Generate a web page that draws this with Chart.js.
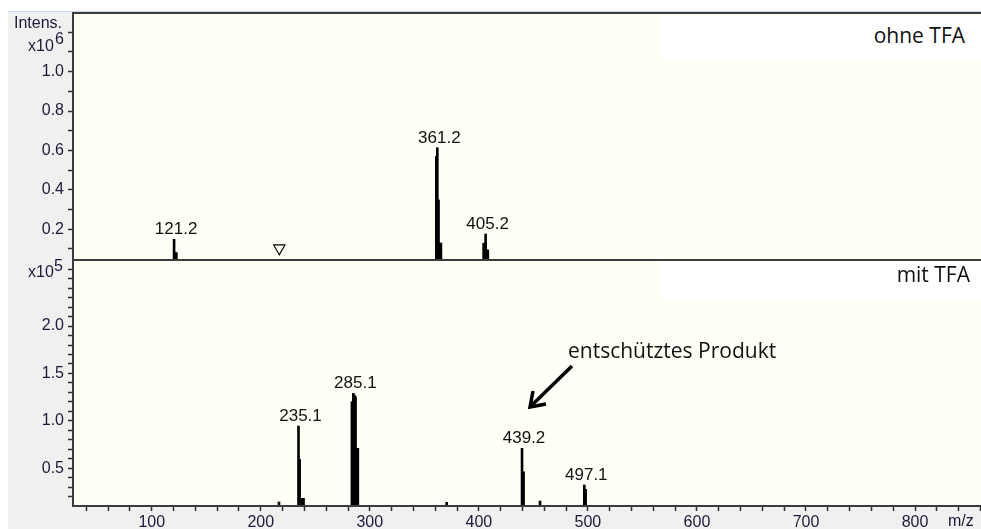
<!DOCTYPE html>
<html>
<head>
<meta charset="utf-8">
<script src="https://cdn.jsdelivr.net/npm/chart.js@4.4.0/dist/chart.umd.min.js"></script>
<style>
  body { margin: 0; width: 981px; height: 529px; overflow: hidden; background: #fff; position: relative; font-family: "Liberation Sans", Arial, sans-serif; }
  #panel { position: absolute; left: 8px; top: 11px; right: 0; bottom: 0; background: #f0f0f0; border-top: 1px solid #c8d8ea; }
  canvas { position: absolute; left: 0; }
  .t { position: absolute; font-size: 16px; line-height: 16px; color: #1a1a3a; white-space: nowrap; }
  .box { position: absolute; left: 660px; right: 0; background: #fff; }
  .note { position: absolute; font-family: "Open Sans", sans-serif; font-size: 21px; line-height: 21px; color: #111; white-space: nowrap; }
</style>
</head>
<body>
<div id="panel"></div>
<canvas id="topChart" width="981" height="261" style="top:0"></canvas>
<canvas id="botChart" width="981" height="269" style="top:260px"></canvas>

<div class="t" style="left:14px;top:15px">Intens.</div>
<div class="t" style="left:28px;top:38px">x10</div>
<div class="t" style="left:55px;top:31px">6</div>
<div class="t" style="left:28px;top:264px">x10</div>
<div class="t" style="left:54px;top:258px">5</div>
<div class="t" style="left:948px;top:513px">m/z</div>

<div class="box" style="top:16px;height:44px"></div>
<div class="box" style="top:262px;height:38px"></div>
<div class="note" style="right:16px;top:25px">ohne TFA</div>
<div class="note" style="right:11px;top:264px">mit TFA</div>
<div class="note" style="left:568px;top:340px">entschütztes Produkt</div>
<svg width="981" height="529" style="position:absolute;left:0;top:0;pointer-events:none">
  <line x1="572" y1="366" x2="532" y2="405" stroke="#000" stroke-width="3.5"/>
  <polyline points="533,391 530,407 546,404" fill="none" stroke="#000" stroke-width="3.5"/>
</svg>

<script>
// m/z range shared by both spectra
const xRange = [27.8, 860.5];
const xTickLabels = ['100', '200', '300', '400', '500', '600', '700', '800'];

// upper spectrum: ohne TFA (x10^6)
const topMz  = [120.5, 121.5, 122.6, 361.0, 361.9, 363.0, 364.2, 365.2, 404.4, 405.3, 406.2, 407.2, 408.2];
const topInt = [0.149, 0.081, 0.081, 0.569, 0.614, 0.349, 0.130, 0.130, 0.129, 0.129, 0.176, 0.095, 0.095];
const topLabels = ['121.2', '361.2', '405.2'];
const precursorMz = [217];
const precursorInt = [0.104];
const topYRange = [0.044, 1.298];
const topYTickLabels = ['0.2', '0.4', '0.6', '0.8', '1.0'];

// lower spectrum: mit TFA (x10^5)
const botMz  = [216.7, 234.6, 235.6, 238.0, 239.2, 283.6, 284.9, 285.9, 286.9, 288.0, 289.0, 370.5, 439.6, 441.0, 456.1, 496.7, 497.9];
const botInt = [0.145, 0.946, 0.595, 0.184, 0.184, 1.202, 1.290, 1.272, 1.255, 0.711, 0.711, 0.142, 0.711, 0.464, 0.155, 0.324, 0.279];
const botLabels = ['235.1', '285.1', '439.2', '497.1'];
const botYRange = [0.103, 2.696];
const botYTickLabels = ['0.5', '1.0', '1.5', '2.0'];

const tickFont = { family: '"Liberation Sans", Arial, sans-serif', size: 16 };

function stepTicks(min, max, step) {
  const out = [];
  for (let i = Math.ceil(min / step - 1e-9); i * step <= max + 1e-9; i++) out.push({ value: +(i * step).toFixed(6) });
  return out;
}

const plotBg = {
  id: 'plotBg',
  beforeDraw(chart) {
    const { ctx, chartArea: a } = chart;
    ctx.save();
    ctx.fillStyle = '#fffff5';
    ctx.fillRect(a.left, a.top, a.right - a.left, a.bottom - a.top);
    ctx.restore();
  },
  afterDraw(chart) {
    const { ctx, chartArea: a } = chart;
    ctx.save();
    ctx.strokeStyle = '#3c3c3c';
    ctx.lineWidth = 2;
    ctx.beginPath();
    ctx.moveTo(a.right, a.top); ctx.lineTo(a.left, a.top);
    ctx.lineTo(a.left, a.bottom); ctx.lineTo(a.right, a.bottom);
    ctx.stroke();
    ctx.restore();
  }
};

const peakLabels = {
  id: 'peakLabels',
  afterDatasetsDraw(chart, args, opts) {
    const { ctx, scales: { x, y } } = chart;
    const data = chart.data.datasets[0].data;
    ctx.save();
    ctx.font = '17px "Liberation Sans", Arial, sans-serif';
    ctx.fillStyle = '#111';
    ctx.textAlign = 'center';
    opts.labels.forEach(lbl => {
      const m = parseFloat(lbl);
      let best = null;
      data.forEach(p => { if (Math.abs(p.x - m) < 3 && (!best || p.y > best.y)) best = p; });
      if (best) ctx.fillText(lbl, x.getPixelForValue(best.x) + 2, y.getPixelForValue(best.y) - 5);
    });
    ctx.restore();
  }
};

function makeOptions(yRange, yLabels, showX, labels, padding) {
  return {
    responsive: false,
    animation: false,
    layout: { padding: padding, autoPadding: false },
    plugins: { legend: { display: false }, tooltip: { enabled: false }, peakLabels: { labels: labels } },
    scales: {
      x: {
        type: 'linear', min: xRange[0], max: xRange[1], display: showX, offset: false,
        afterBuildTicks: s => { s.ticks = stepTicks(xRange[0], xRange[1], 20); },
        afterFit: s => { s.height = showX ? 23 : 0; s.paddingLeft = 0; s.paddingRight = 0; },
        grid: { drawOnChartArea: false, offset: false, tickLength: 5, tickWidth: 1.5, tickColor: '#303030' },
        border: { display: false },
        ticks: {
          autoSkip: false, maxRotation: 0, padding: 2, color: '#1a1a3a', font: tickFont,
          callback: v => { const s = String(Math.round(v)); return xTickLabels.includes(s) ? s : ''; }
        }
      },
      y: {
        min: yRange[0], max: yRange[1],
        afterBuildTicks: s => { s.ticks = stepTicks(yRange[0], yRange[1], 0.1); },
        afterFit: s => { s.width = 73; s.paddingTop = 0; s.paddingBottom = 0; },
        grid: { drawOnChartArea: false, tickLength: 5, tickWidth: 1.5, tickColor: '#303030' },
        border: { display: false },
        ticks: {
          autoSkip: false, padding: 4, color: '#1a1a3a', font: tickFont,
          callback: v => { const s = v.toFixed(1); return yLabels.includes(s) ? s : ''; }
        }
      }
    }
  };
}

new Chart(document.getElementById('topChart'), {
  type: 'bar',
  data: {
    datasets: [
      { data: topMz.map((m, i) => ({ x: m, y: topInt[i] })), backgroundColor: '#000', barThickness: 2 },
      {
        type: 'line', showLine: false, clip: false,
        data: precursorMz.map((m, i) => ({ x: m, y: precursorInt[i] })),
        pointStyle: 'triangle', rotation: 180, radius: 6.5,
        borderColor: '#000', borderWidth: 1.2, backgroundColor: '#fffff5'
      }
    ]
  },
  options: makeOptions(topYRange, topYTickLabels, false, topLabels, { top: 13, bottom: 1, right: 0 }),
  plugins: [plotBg, peakLabels]
});

new Chart(document.getElementById('botChart'), {
  type: 'bar',
  data: {
    datasets: [
      { data: botMz.map((m, i) => ({ x: m, y: botInt[i] })), backgroundColor: '#000', barThickness: 2 }
    ]
  },
  options: makeOptions(botYRange, botYTickLabels, true, botLabels, { top: 0, bottom: 0 }),
  plugins: [plotBg, peakLabels]
});
</script>
</body>
</html>
